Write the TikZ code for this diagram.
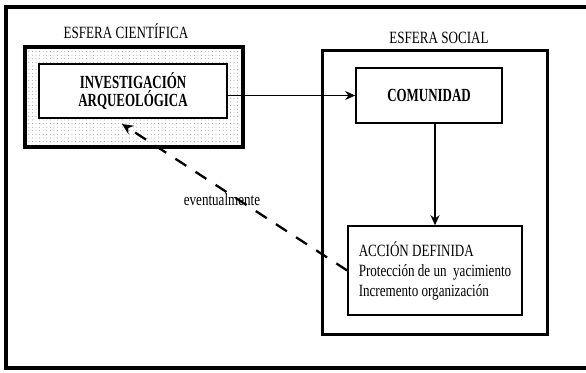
\documentclass[tikz,border=0pt]{standalone}
\usepackage{fontspec}
\setmainfont[FakeStretch=0.76, BoldFeatures={FakeStretch=0.7}]{Liberation Serif}
\usetikzlibrary{positioning,arrows.meta,patterns.meta}
\tikzset{
  frame/.style={draw=black, line width=3.4pt},
  sphere/.style={draw=black, line width=3.4pt, inner sep=0pt},
  box/.style={draw=black, line width=1.6pt, fill=white, inner sep=0pt, align=center},
  flow/.style={draw=black, line width=1.5pt, -{Stealth[length=10pt,width=9pt]}},
  back/.style={draw=black, line width=2.3pt, dash pattern=on 13pt off 11pt, -{Stealth[length=11pt,width=10pt]}},
  lab/.style={font=\fontsize{17.2}{18}\selectfont, inner sep=0pt},
  labb/.style={font=\fontsize{18.5}{18}\selectfont\bfseries},
}
\begin{document}
\begin{tikzpicture}[x=1pt,y=-1pt]
  \useasboundingbox (0,0) rectangle (586,372);
  \draw[frame] (588,7) -- (6,7) -- (6,368) -- (588,368);
  % the two spheres
  \node[sphere, pattern={Dots[distance=3.6pt,radius=0.45pt]}, pattern color=gray, minimum width=218pt, minimum height=100pt] (cient) at (134,97) {};
  \node[box, labb, minimum width=188pt, minimum height=54pt] (invest) at (133,91) {INVESTIGACIÓN\\ARQUEOLÓGICA};
  \node[sphere, line width=3pt, minimum width=225pt, minimum height=284pt] (social) at (434.5,192) {};
  \node[box, labb, minimum width=146pt, minimum height=55pt] (comun) at (429,95.5) {COMUNIDAD};
  \node[box, minimum width=174pt, minimum height=89pt, align=left, font=\fontsize{17.2}{20}\selectfont] (accion) at (435,270.5) {ACCIÓN DEFINIDA\\Protección de un\ \ yacimiento\\Incremento organización};
  \node[lab, anchor=base] (tcient) at (126,38.5) {ESFERA CIENTÍFICA};
  \node[lab, anchor=base] (tsocial) at (439,43) {ESFERA SOCIAL};
  % connectors
  \draw[flow] (invest.east |- comun.west) -- (comun.west);
  \draw[flow] (comun.south -| accion.north) -- (accion.north);
  \coordinate (tip) at (122,124);
  \draw[back] (accion.west) -- (tip) node[lab, pos=0.556, yshift=-11pt] (tev) {eventualmente};
\end{tikzpicture}
\end{document}
